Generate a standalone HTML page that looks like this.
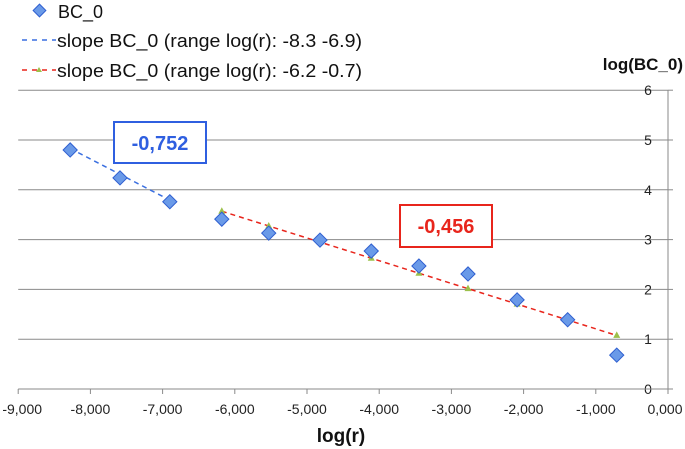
<!DOCTYPE html>
<html><head><meta charset="utf-8"><style>
body{margin:0;background:#fff;}
svg{display:block;font-family:"Liberation Sans",sans-serif;}
</style></head><body>
<svg id="chart" width="685" height="449" viewBox="0 0 685 449">
<g id="grid"></g>
<g id="axes"></g>
<g id="series"></g>
<g>
  <rect x="35" y="6" width="9" height="9" fill="#6a9ae8" stroke="#2f5fd0" stroke-width="1" transform="rotate(45 39.5 10.5)"/>
  <text x="58" y="18" font-size="18" fill="#111">BC_0</text>
  <line x1="22" y1="40" x2="56" y2="40" stroke="#3a6fe0" stroke-width="1.5" stroke-dasharray="5,5"/>
  <text x="57" y="47" font-size="18" textLength="305" lengthAdjust="spacingAndGlyphs" fill="#111">slope BC_0 (range log(r): -8.3 -6.9)</text>
  <line x1="22" y1="70" x2="56" y2="70" stroke="#e8251c" stroke-width="1.5" stroke-dasharray="5,5"/>
  <polygon points="39,67 42,72 36,72" fill="#9cc04a"/>
  <text x="57" y="77" font-size="18" textLength="305" lengthAdjust="spacingAndGlyphs" fill="#111">slope BC_0 (range log(r): -6.2 -0.7)</text>
</g>
<text x="683" y="70" font-size="17" font-weight="bold" text-anchor="end" fill="#111">log(BC_0)</text>
<text x="341" y="442" font-size="19" font-weight="bold" text-anchor="middle" fill="#111">log(r)</text>
<g>
  <rect x="114" y="122" width="92" height="41" fill="#fff" stroke="#2f5fe0" stroke-width="2"/>
  <text x="160" y="150" font-size="20" font-weight="bold" fill="#2f5fe0" text-anchor="middle">-0,752</text>
</g>
<g>
  <rect x="400" y="205" width="92" height="42" fill="#fff" stroke="#e8251c" stroke-width="2"/>
  <text x="446" y="233" font-size="20" font-weight="bold" fill="#e8251c" text-anchor="middle">-0,456</text>
</g>
</svg>
<script>
const xVals=[-8.28,-7.59,-6.90,-6.18,-5.53,-4.82,-4.11,-3.45,-2.77,-2.09,-1.39,-0.71];
const yVals=[4.80,4.24,3.76,3.41,3.13,2.99,2.77,2.47,2.31,1.79,1.39,0.68];
const blueRange=[-8.28,-6.90];
const blueStart=4.83;
const blueSlope=-0.752;
const redXs=[-6.18,-5.53,-4.82,-4.11,-3.45,-2.77,-2.09,-1.39,-0.71];
const redStart=3.57;
const redSlope=-0.456;
const xTicks=[-9,-8,-7,-6,-5,-4,-3,-2,-1,0];
const xTickLabels=["-9,000","-8,000","-7,000","-6,000","-5,000","-4,000","-3,000","-2,000","-1,000","0,000"];
const yTicks=[0,1,2,3,4,5,6];

const NS="http://www.w3.org/2000/svg";
const X=v=>668+v*72.2;
const Y=v=>389-v*49.8;
function mk(tag,attrs,parent){const e=document.createElementNS(NS,tag);for(const k in attrs)e.setAttribute(k,attrs[k]);parent.appendChild(e);return e;}
const grid=document.getElementById('grid'),axes=document.getElementById('axes'),series=document.getElementById('series');
yTicks.forEach(t=>{
  if(t>0){const l=mk('line',{x1:X(-9),x2:X(0),y1:Y(t),y2:Y(t),stroke:'#8a8a8a','stroke-width':1},grid);
  
  }
  const tx=mk('text',{x:648,y:Y(t)+5,'font-size':14,'text-anchor':'middle',fill:'#222'},axes);
  tx.textContent=t;
  
  
});
mk('line',{x1:X(-9),x2:X(0),y1:Y(0),y2:Y(0),stroke:'#8a8a8a','stroke-width':1},axes);
mk('line',{x1:X(0),x2:X(0),y1:Y(6),y2:Y(0)+5,stroke:'#8a8a8a','stroke-width':1},axes);
yTicks.forEach(t=>mk('line',{x1:X(0),x2:X(0)+5,y1:Y(t),y2:Y(t),stroke:'#8a8a8a'},axes));
xTicks.forEach((t,i)=>{
  mk('line',{x1:X(t),x2:X(t),y1:Y(0),y2:Y(0)+5,stroke:'#8a8a8a'},axes);
  const tx=mk('text',{x:X(t)+(i===0?4:i===9?-3:0),y:Y(0)+25,'font-size':14,'text-anchor':'middle',fill:'#222'},axes);
  tx.textContent=xTickLabels[i];
  
  
});
const bl=mk('line',{x1:X(blueRange[0]),y1:Y(blueStart),x2:X(blueRange[1]),y2:Y(blueStart+blueSlope*(blueRange[1]-blueRange[0])),stroke:'#3a6fe0','stroke-width':1.5,'stroke-dasharray':'5,4'},series);


const r0=redXs[0],r1=redXs[redXs.length-1];
const rl=mk('line',{x1:X(r0),y1:Y(redStart),x2:X(r1),y2:Y(redStart+redSlope*(r1-r0)),stroke:'#e8251c','stroke-width':1.5,'stroke-dasharray':'5,4'},series);


redXs.forEach(x=>{
  const cx=X(x),cy=Y(redStart+redSlope*(x-r0));
  const p=mk('polygon',{points:`${cx},${cy-4} ${cx+3.5},${cy+2.5} ${cx-3.5},${cy+2.5}`,fill:'#9cc04a'},series);
  
  
});
xVals.forEach((x,i)=>{
  const cx=X(x),cy=Y(yVals[i]);
  const d=mk('rect',{x:cx-5,y:cy-5,width:10,height:10,fill:'#6a9ae8',stroke:'#2f5fd0','stroke-width':1,transform:`rotate(45 ${cx} ${cy})`},series);
  
  
});
</script>
</body></html>
